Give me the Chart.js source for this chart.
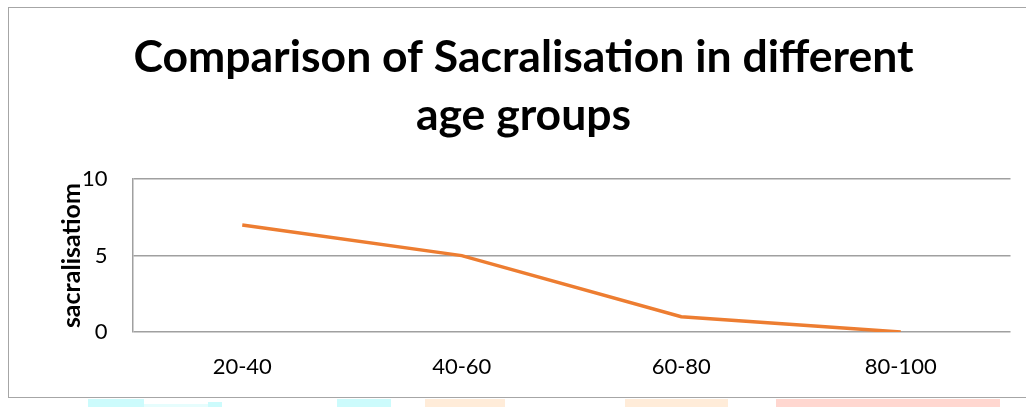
<!DOCTYPE html>
<html>
<head>
<meta charset="utf-8">
<script src="https://cdn.jsdelivr.net/npm/chart.js@4.4.0/dist/chart.umd.min.js"></script>
<style>
  html, body { margin: 0; padding: 0; background: #fff; overflow: hidden; }
  #page { position: relative; width: 1026px; height: 407px; overflow: hidden; }
  #box {
    position: absolute; left: 8px; top: 7px;
    width: 1018px; height: 389px;
    border: 1.5px solid #a6a6a6;
    border-right: none;
    background: #fff;
  }
  #myChart { display: block; width: 1017px; height: 389px; }
  .strip { position: absolute; top: 399px; height: 8px; }
</style>
</head>
<body>
<div id="page">
  <div class="strip" style="left:88px;width:56px;background:#ccfbfc"></div>
  <div class="strip" style="left:144px;width:64px;top:404px;height:3px;background:#e6fdfd"></div>
  <div class="strip" style="left:208px;width:14px;top:402px;height:5px;background:#ccfbfc"></div>
  <div class="strip" style="left:337px;width:54px;background:#ccfbfc"></div>
  <div class="strip" style="left:425px;width:80px;background:#ffecd9"></div>
  <div class="strip" style="left:625px;width:103px;background:#ffecd9"></div>
  <div class="strip" style="left:776px;width:224px;background:#ffd7d0"></div>
  <div id="box"><canvas id="myChart" width="1017" height="389"></canvas></div>
</div>
<script>
// Data
const ageGroups = ['20-40', '40-60', '60-80', '80-100'];
const sacralisation = [7, 5, 1, 0];
const yMin = 0;
const yMax = 10;
const yStep = 5;

const fontFamily = 'Lato, "Open Sans", sans-serif';
const gridGray = '#a0a0a0';

const ctx = document.getElementById('myChart');

new Chart(ctx, {
    type: 'line',
    data: {
        labels: ageGroups,
        datasets: [{
            label: 'sacralisatiom',
            data: sacralisation,
            borderColor: '#ED7D31',
            backgroundColor: '#ED7D31',
            borderWidth: 3.5,
            pointRadius: 0,
            tension: 0
        }]
    },
    options: {
        responsive: false,
        animation: false,
        devicePixelRatio: 1,
        layout: { padding: { left: 27.5, right: 15.5, top: 0, bottom: -5 } },
        plugins: {
            legend: { display: false },
            tooltip: { enabled: false },
            title: {
                display: true,
                text: ['Comparison of Sacralisation in different', 'age groups'],
                color: '#000',
                font: { family: fontFamily, size: 44.5, weight: 'bold', lineHeight: 1.3 },
                padding: { top: 21, bottom: 34.5 }
            }
        },
        scales: {
            x: {
                offset: true,
                grid: { display: false, drawTicks: false },
                border: { display: false },
                ticks: {
                    color: '#000',
                    padding: 24,
                    font: { family: fontFamily, size: 22, lineHeight: 1 },
                    maxRotation: 0
                }
            },
            y: {
                min: yMin,
                max: yMax,
                afterFit: (scale) => { scale.width = 96; },
                grid: { color: gridGray, lineWidth: 1.5, drawTicks: false },
                border: { display: true, color: gridGray, width: 1.5 },
                ticks: {
                    stepSize: yStep,
                    color: '#000',
                    padding: 25,
                    font: { family: fontFamily, size: 22 }
                },
                title: {
                    display: true,
                    text: 'sacralisatiom',
                    color: '#000',
                    padding: { top: 20, bottom: 0 },
                    font: { family: fontFamily, size: 25, weight: 'bold' }
                }
            }
        }
    }
});
</script>
</body>
</html>
